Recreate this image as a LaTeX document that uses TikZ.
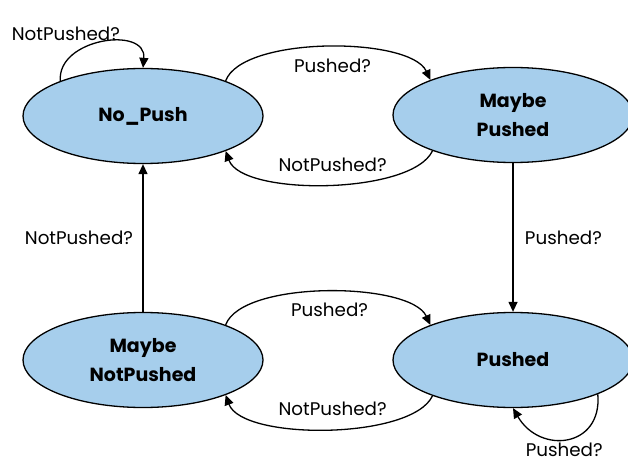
\documentclass[tikz,border=0pt]{standalone}
\usepackage{fontspec}
\setmainfont{Poppins}
\usepackage{xcolor}
\definecolor{statefill}{RGB}{166,206,236}
\usepackage{tikz}
\usetikzlibrary{arrows.meta}
\usetikzlibrary{shapes.geometric}

\begin{document}
\begin{tikzpicture}[x=1pt, y=1pt, >={Triangle[length=10pt, width=9pt]},
    line width=1.3pt,
    state/.style={ellipse, draw, fill=statefill, minimum width=240pt,
      minimum height=95pt, inner sep=0pt, align=center,
      font=\bfseries\fontsize{19}{29}\selectfont},
    lbl/.style={font=\fontsize{18.3}{20}\selectfont}]

    \useasboundingbox (0, 0) rectangle (628, 464);

    \node [state] (nopush) at (143, 348) {No\_Push};
    \node [state] (maybep) at (513, 349) {Maybe\\Pushed};
    \node [state] (maybenp) at (143, 104) {Maybe\\NotPushed};
    \node [state] (pushed) at (513, 104) {Pushed};

    \draw [->] (nopush.157) to [out=95, in=85, looseness=1.3]
    node [lbl, pos=0.35, above=4pt, xshift=-17pt] {NotPushed?} (nopush.north);

    \draw [->] (nopush.23) to [out=70, in=115, looseness=0.6]
    node [lbl, below=8pt, xshift=6pt] {Pushed?} (maybep.157);

    \draw [->] (maybep.204) to [out=-115, in=-70, looseness=0.6]
    node [lbl, above=9pt, xshift=5pt] {NotPushed?} (nopush.337);

    \draw [->] (maybep.south) -- (pushed.north)
    node [lbl, midway, right=8pt] {Pushed?};

    \draw [->] (maybenp.north) -- (nopush.south)
    node [lbl, midway, left=6pt] {NotPushed?};

    \draw [->] (maybenp.23) to [out=70, in=115, looseness=0.6]
    node [lbl, below=7pt, xshift=3pt] {Pushed?} (pushed.157);

    \draw [->] (pushed.204) to [out=-115, in=-70, looseness=0.6]
    node [lbl, above=9pt, xshift=5pt] {NotPushed?} (maybenp.337);

    \draw [->] (pushed.338) to [out=-85, in=-60, looseness=1.6]
    node [lbl, pos=0.5, below, inner sep=4pt, xshift=-3pt] {Pushed?} (pushed.south);

  \end{tikzpicture}
\end{document}
